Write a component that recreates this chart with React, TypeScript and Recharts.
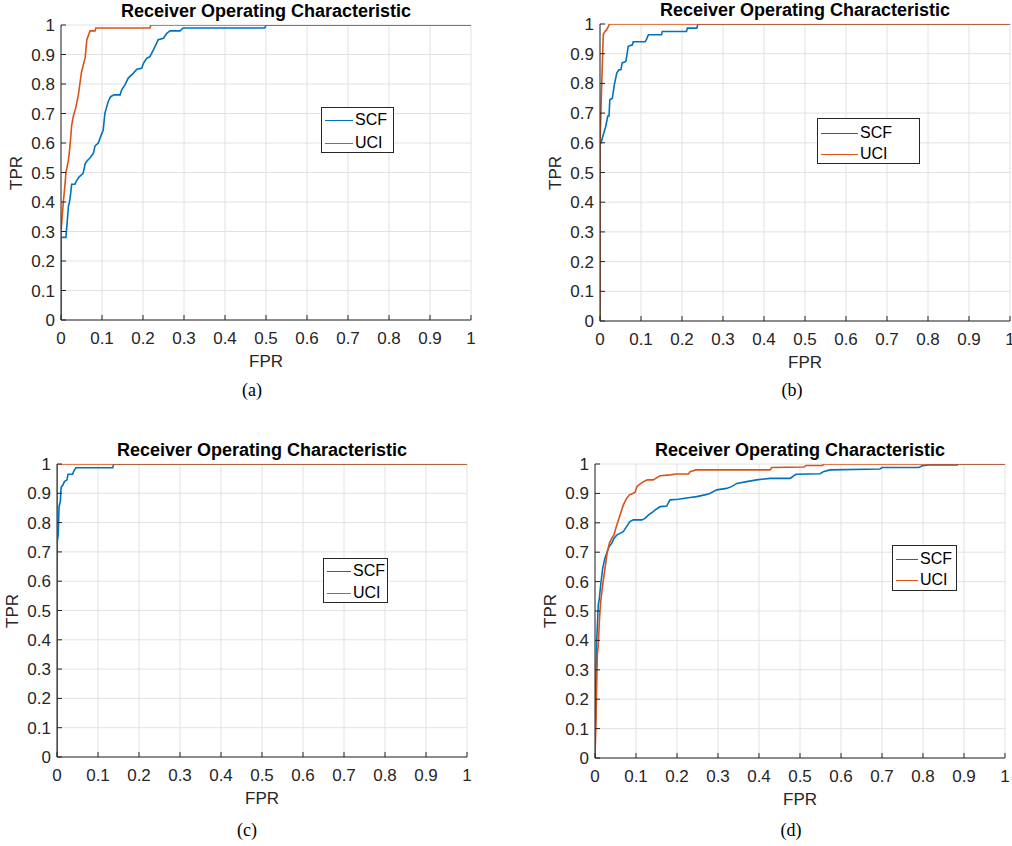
import React from 'react';
import { LineChart, Line, XAxis, YAxis, CartesianGrid } from 'recharts';

// Shared axis ticks and labels
const AXIS_TICKS = [0, 0.1, 0.2, 0.3, 0.4, 0.5, 0.6, 0.7, 0.8, 0.9, 1];
const TICK_LABELS = ['0', '0.1', '0.2', '0.3', '0.4', '0.5', '0.6', '0.7', '0.8', '0.9', '1'];
const SERIES_NAMES = ['SCF', 'UCI'];
const SERIES_COLORS = ['#0072BD', '#D95319'];
const TITLE = 'Receiver Operating Characteristic';
const X_LABEL = 'FPR';
const Y_LABEL = 'TPR';
const CAPTIONS = ['(a)', '(b)', '(c)', '(d)'];

// ROC points as [FPR, TPR]
const SCF_A: [number, number][] = [
  [0, 0], [0, 0.28], [0.012, 0.28], [0.015, 0.33], [0.018, 0.384], [0.022, 0.41], [0.026, 0.46],
  [0.034, 0.46], [0.037, 0.47], [0.045, 0.486], [0.054, 0.497], [0.059, 0.53], [0.064, 0.54],
  [0.071, 0.55], [0.079, 0.565], [0.083, 0.59], [0.091, 0.6], [0.099, 0.63], [0.103, 0.644],
  [0.107, 0.7], [0.111, 0.72], [0.115, 0.74], [0.121, 0.757], [0.129, 0.763], [0.144, 0.763],
  [0.148, 0.78], [0.156, 0.797], [0.164, 0.82], [0.176, 0.836], [0.185, 0.85], [0.197, 0.853],
  [0.201, 0.87], [0.209, 0.887], [0.217, 0.893], [0.225, 0.915], [0.233, 0.938], [0.237, 0.95],
  [0.25, 0.955], [0.258, 0.972], [0.266, 0.98], [0.29, 0.98], [0.298, 0.99], [0.497, 0.99],
  [0.5, 1], [1, 1],
];
const UCI_A: [number, number][] = [
  [0, 0], [0, 0.3], [0.0057, 0.4], [0.0098, 0.46], [0.012, 0.5], [0.018, 0.54], [0.022, 0.59],
  [0.026, 0.66], [0.03, 0.69], [0.036, 0.72], [0.042, 0.76], [0.046, 0.8], [0.05, 0.84],
  [0.059, 0.89], [0.063, 0.95], [0.071, 0.98], [0.083, 0.98], [0.085, 0.99], [0.217, 0.99],
  [0.219, 1], [1, 1],
];

const SCF_B: [number, number][] = [
  [0, 0], [0, 0.595], [0.0024, 0.6], [0.008, 0.627], [0.014, 0.655], [0.019, 0.69], [0.022, 0.69],
  [0.024, 0.745], [0.03, 0.75], [0.035, 0.796], [0.041, 0.835], [0.046, 0.846], [0.051, 0.846],
  [0.054, 0.869], [0.063, 0.874], [0.065, 0.891], [0.069, 0.925], [0.079, 0.93], [0.081, 0.94],
  [0.11, 0.94], [0.114, 0.95], [0.118, 0.964], [0.15, 0.964], [0.152, 0.975], [0.211, 0.975],
  [0.213, 0.986], [0.236, 0.986], [0.239, 1], [1, 1],
];
const UCI_B: [number, number][] = [
  [0, 0], [0, 0.6], [0.0016, 0.67], [0.004, 0.79], [0.0065, 0.9], [0.008, 0.965], [0.012, 0.975],
  [0.016, 0.98], [0.02, 0.99], [0.023, 1], [1, 1],
];

const SCF_C: [number, number][] = [
  [0, 0], [0, 0.73], [0.003, 0.76], [0.005, 0.855], [0.008, 0.87], [0.01, 0.92], [0.015, 0.93],
  [0.018, 0.94], [0.024, 0.945], [0.027, 0.965], [0.038, 0.965], [0.041, 0.976], [0.046, 0.987],
  [0.136, 0.987], [0.138, 1], [1, 1],
];
const UCI_C: [number, number][] = [
  [0, 0], [0, 1], [1, 1],
];

const SCF_D: [number, number][] = [
  [0, 0], [0.0016, 0.237], [0.004, 0.396], [0.008, 0.52], [0.0106, 0.543], [0.0138, 0.588],
  [0.0187, 0.645], [0.0244, 0.68], [0.03, 0.702], [0.035, 0.72], [0.0407, 0.73], [0.046, 0.747],
  [0.053, 0.758], [0.061, 0.764], [0.069, 0.77], [0.077, 0.787], [0.085, 0.804], [0.0935, 0.81],
  [0.114, 0.81], [0.122, 0.815], [0.13, 0.826], [0.142, 0.838], [0.15, 0.847], [0.159, 0.855],
  [0.175, 0.857], [0.183, 0.878], [0.203, 0.88], [0.232, 0.886], [0.248, 0.889], [0.268, 0.895],
  [0.28, 0.9], [0.297, 0.912], [0.321, 0.917], [0.333, 0.923], [0.346, 0.934], [0.37, 0.94],
  [0.394, 0.946], [0.427, 0.951], [0.476, 0.951], [0.49, 0.965], [0.549, 0.967], [0.557, 0.974],
  [0.573, 0.98], [0.695, 0.983], [0.7, 0.988], [0.79, 0.988], [0.798, 0.994], [0.814, 0.997],
  [0.884, 0.997], [0.886, 1], [1, 1],
];
const UCI_D: [number, number][] = [
  [0, 0], [0.0024, 0.124], [0.004, 0.237], [0.0057, 0.35], [0.008, 0.384], [0.0106, 0.464],
  [0.0138, 0.532], [0.0187, 0.588], [0.0244, 0.645], [0.03, 0.702], [0.035, 0.73], [0.0407, 0.747],
  [0.046, 0.758], [0.053, 0.792], [0.061, 0.826], [0.069, 0.86], [0.077, 0.883], [0.084, 0.895],
  [0.092, 0.9], [0.098, 0.904], [0.102, 0.923], [0.108, 0.93], [0.118, 0.94], [0.128, 0.946],
  [0.142, 0.946], [0.15, 0.953], [0.159, 0.96], [0.183, 0.963], [0.199, 0.966], [0.228, 0.966],
  [0.232, 0.974], [0.246, 0.98], [0.427, 0.98], [0.431, 0.988], [0.51, 0.99], [0.515, 0.995],
  [0.555, 0.995], [0.558, 1], [1, 1],
];

const SANS = '"Liberation Sans", Arial, Helvetica, sans-serif';
const SERIF = '"Liberation Serif", "Times New Roman", serif';
const INK = '#262626';

type Rect = { x: number; y: number; w: number; h: number };
type LegendBox = { x: number; y: number; w: number; h: number; line: number; rows: number[] };

const LAYOUT: { plot: Rect; legend: LegendBox; caption: { x: number; y: number } }[] = [
  { plot: { x: 61, y: 25, w: 410, h: 295 }, legend: { x: 321, y: 107, w: 73, h: 46, line: 28, rows: [12, 35] }, caption: { x: 252, y: 392 } },
  { plot: { x: 600, y: 24, w: 410, h: 297 }, legend: { x: 817, y: 118, w: 103, h: 46, line: 37, rows: [14, 35] }, caption: { x: 792, y: 392 } },
  { plot: { x: 57, y: 464, w: 410, h: 293 }, legend: { x: 323, y: 558, w: 65, h: 45, line: 24, rows: [12, 34] }, caption: { x: 247, y: 832 } },
  { plot: { x: 595, y: 464, w: 410, h: 294 }, legend: { x: 892, y: 545, w: 65, h: 46, line: 22, rows: [13, 34] }, caption: { x: 791, y: 832 } },
];

const SERIES = [
  [SCF_A, UCI_A],
  [SCF_B, UCI_B],
  [SCF_C, UCI_C],
  [SCF_D, UCI_D],
];

const fmtTick = (v: number) => {
  const i = AXIS_TICKS.findIndex((t) => Math.abs(t - v) < 1e-9);
  return i >= 0 ? TICK_LABELS[i] : String(v);
};

const toPoints = (arr: [number, number][]) => arr.map(([fpr, tpr]) => ({ fpr, tpr }));

function RocPanel({ index }: { index: number }) {
  const { plot, legend, caption } = LAYOUT[index];
  const ML = 50, MT = 30, MR = 12, MB = 30;
  const tickStyle = { fill: INK, fontSize: 17, fontFamily: SANS };
  return (
    <>
      <div
        style={{
          position: 'absolute', left: plot.x - 200, width: 400 + plot.w - plot.w, top: plot.y - 24,
          marginLeft: plot.w / 2, height: 20, lineHeight: '20px', textAlign: 'center',
          fontFamily: SANS, fontSize: 18, fontWeight: 'bold', color: '#000', whiteSpace: 'nowrap',
        }}
      >
        {TITLE}
      </div>
      <div style={{ position: 'absolute', left: plot.x - ML, top: plot.y - MT }}>
        <LineChart
          width={plot.w + ML + MR}
          height={plot.h + MT + MB}
          margin={{ top: MT, right: MR, left: 0, bottom: 0 }}
        >
          <CartesianGrid stroke="#e2e2e2" strokeWidth={1} />
          <XAxis
            xAxisId={0} type="number" dataKey="fpr" domain={[0, 1]} ticks={AXIS_TICKS}
            tickFormatter={fmtTick} height={MB} tickSize={-5} tickMargin={17}
            stroke={INK} tick={tickStyle} interval={0} allowDataOverflow
          />
          <XAxis
            xAxisId="top" orientation="top" type="number" domain={[0, 1]} ticks={AXIS_TICKS}
            height={0} tickSize={-5} stroke={INK} tick={false} interval={0} allowDataOverflow
          />
          <YAxis
            yAxisId={0} type="number" domain={[0, 1]} ticks={AXIS_TICKS} tickFormatter={fmtTick}
            width={ML} tickSize={-5} tickMargin={11} stroke={INK} tick={tickStyle} interval={0}
            allowDataOverflow
          />
          <YAxis
            yAxisId="right" orientation="right" type="number" domain={[0, 1]} ticks={AXIS_TICKS}
            width={0} tickSize={-5} stroke={INK} tick={false} interval={0} allowDataOverflow
          />
          {SERIES[index].map((pts, si) => (
            <Line
              key={SERIES_NAMES[si]}
              name={SERIES_NAMES[si]}
              data={toPoints(pts)}
              xAxisId={0}
              yAxisId={0}
              dataKey="tpr"
              type="linear"
              stroke={SERIES_COLORS[si]}
              strokeWidth={1.6}
              dot={false}
              activeDot={false}
              isAnimationActive={false}
            />
          ))}
        </LineChart>
      </div>
      <div
        style={{
          position: 'absolute', left: plot.x + plot.w / 2 - 50, width: 100, top: plot.y + plot.h + 32,
          height: 20, lineHeight: '20px', textAlign: 'center', fontFamily: SANS, fontSize: 17, color: INK,
        }}
      >
        {X_LABEL}
      </div>
      <div
        style={{
          position: 'absolute', left: plot.x - 44 - 30, width: 60, top: plot.y + plot.h / 2 - 10,
          height: 20, lineHeight: '20px', textAlign: 'center', fontFamily: SANS, fontSize: 17, color: INK,
          transform: 'rotate(-90deg)',
        }}
      >
        {Y_LABEL}
      </div>
      <div
        style={{
          position: 'absolute', left: legend.x, top: legend.y, width: legend.w, height: legend.h,
          boxSizing: 'border-box', border: `1px solid ${INK}`, background: '#fff',
        }}
      >
        {SERIES_NAMES.map((name, si) => (
          <div
            key={name}
            style={{
              position: 'absolute', left: 3, top: legend.rows[si] - 10, height: 20,
              display: 'flex', alignItems: 'center', fontFamily: SANS, fontSize: 16, color: '#000',
              whiteSpace: 'nowrap',
            }}
          >
            <span style={{ display: 'inline-block', width: legend.line, height: 0, borderTop: `1.6px solid ${SERIES_COLORS[si]}`, marginRight: 2 }} />
            <span style={{ lineHeight: '20px' }}>{name}</span>
          </div>
        ))}
      </div>
      <div
        style={{
          position: 'absolute', left: caption.x - 30, width: 60, top: caption.y - 12, height: 20,
          lineHeight: '20px', textAlign: 'center', fontFamily: SERIF, fontSize: 18, color: '#000',
        }}
      >
        {CAPTIONS[index]}
      </div>
    </>
  );
}

export default function App() {
  return (
    <div style={{ position: 'absolute', left: 0, top: 0, width: 1012, height: 846, background: '#fff', overflow: 'hidden' }}>
      {LAYOUT.map((_, i) => (
        <RocPanel key={i} index={i} />
      ))}
    </div>
  );
}
